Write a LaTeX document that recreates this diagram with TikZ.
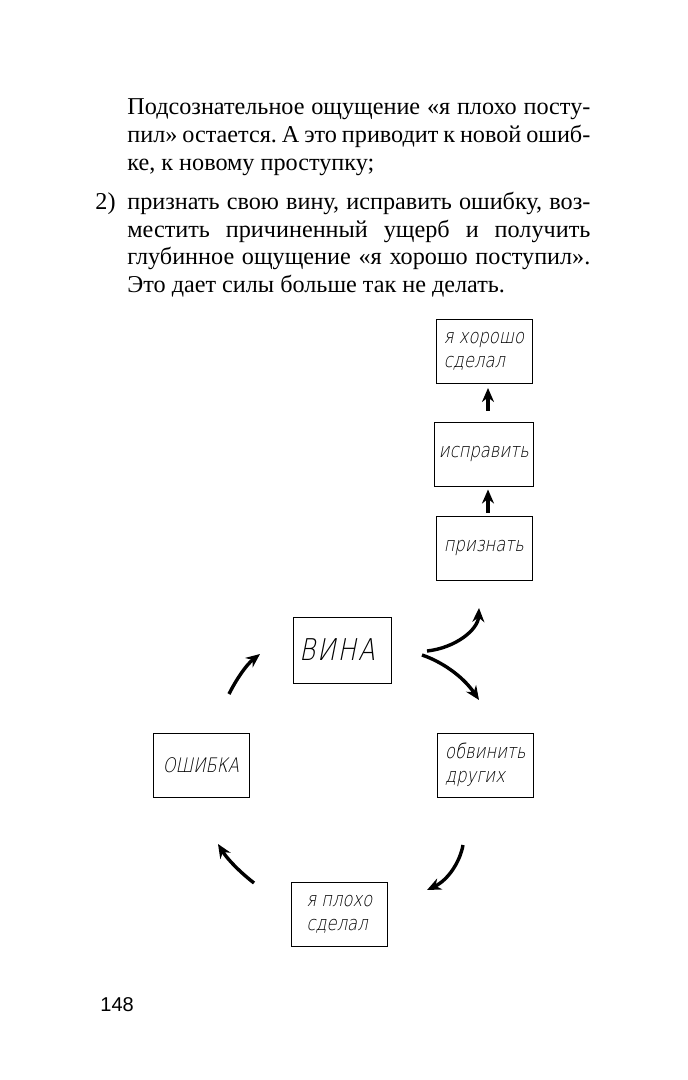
\documentclass[tikz,border=0pt]{standalone}
\usepackage{fontspec}
\setmainfont{Liberation Serif}
\newfontfamily\handfont{DejaVu Sans ExtraLight}[FakeSlant=0.2,FakeStretch=0.82]
\newfontfamily\numfont{Liberation Sans}
\usetikzlibrary{arrows.meta,positioning}
\frenchspacing
\tikzstyle{box}=[draw, line width=0.5pt, minimum width=48pt, minimum height=32pt, inner sep=2pt, align=left, font=\handfont\fontsize{10}{12}\selectfont]
\tikzstyle{arr}=[line width=1.7pt, -{Stealth[length=7pt,width=6pt]}]
\tikzstyle{txtline}=[anchor=base west, inner sep=0pt, font=\fontsize{12.1}{14}\selectfont]

\begin{document}
\begin{tikzpicture}[x=0.5pt,y=-0.5pt]
  \useasboundingbox (0,0) rectangle (688,1080);
  % text above the picture
  \node[txtline] (l1) at (127,115) {\makebox[231.5pt][s]{Подсознательное ощущение «я плохо посту-}};
  \node[txtline] (l2) at (127,142.5) {\makebox[231.5pt][s]{пил» остается. А это приводит к новой ошиб-}};
  \node[txtline] (l3) at (127,170.5) {ке, к новому проступку;};
  \node[txtline] (n2) at (95,209.5) {2)};
  \node[txtline] (l4) at (127,209.5) {\makebox[231.5pt][s]{признать свою вину, исправить ошибку, воз-}};
  \node[txtline] (l5) at (127,237.5) {\makebox[231.5pt][s]{местить причиненный ущерб и получить}};
  \node[txtline] (l6) at (127,265) {\makebox[231.5pt][s]{глубинное ощущение «я хорошо поступил».}};
  \node[txtline] (l7) at (127,292.5) {Это дает силы больше так не делать.};

  % right column
  \foreach \nm/\txt/\y in {horosho/{я хорошо\\сделал}/351.5, ispravit/исправить/454, priznat/признать/548}{
    \node[box] (\nm) at (484,\y) {\txt};
  }
  \draw[arr, shorten <=1.5pt, shorten >=1.5pt] ([xshift=2pt]priznat.north) -- ([xshift=2pt]ispravit.south);
  \draw[arr, shorten <=5.5pt, shorten >=2pt] ([xshift=2pt]ispravit.north) -- ([xshift=2pt]horosho.south);

  % circle
  \node[box, minimum width=49pt, minimum height=33pt, font=\handfont\fontsize{15}{18}\selectfont] (vina) at (342,650) {В\kern1pt И\kern1pt Н\kern1pt А\hspace{5pt}};
  \node[box] (obvinit) at (485.5,765) {обвинить\\других};
  \node[box] (oshibka) at (201,765) {ОШИБКА};
  \node[box] (ploho) at (339.5,914.5) {я плохо\\сделал};

  \coordinate (up1) at (427,651);
  \coordinate (up2) at (479,608);
  \coordinate (dn1) at (422,655);
  \coordinate (dn2) at (479,700);
  \coordinate (ob1) at (463,845);
  \coordinate (ob2) at (427,890);
  \coordinate (pl1) at (254,883);
  \coordinate (pl2) at (218,844);
  \coordinate (os1) at (229,694);
  \coordinate (os2) at (260,654);

  \draw[arr] (up1) .. controls (455,648) and (478,630) .. (up2);
  \draw[arr] (dn1) .. controls (440,661) and (462,675) .. (dn2);
  \draw[arr] (ob1) .. controls (460,862) and (448,880) .. (ob2);
  \draw[arr] (pl1) .. controls (240,872) and (228,860) .. (pl2);
  \draw[arr] (os1) .. controls (236,680) and (246,665) .. (os2);

  \node[anchor=base west, inner sep=0pt, font=\numfont\fontsize{10}{12}\selectfont] (page) at (100,1011) {148};
\end{tikzpicture}
\end{document}
